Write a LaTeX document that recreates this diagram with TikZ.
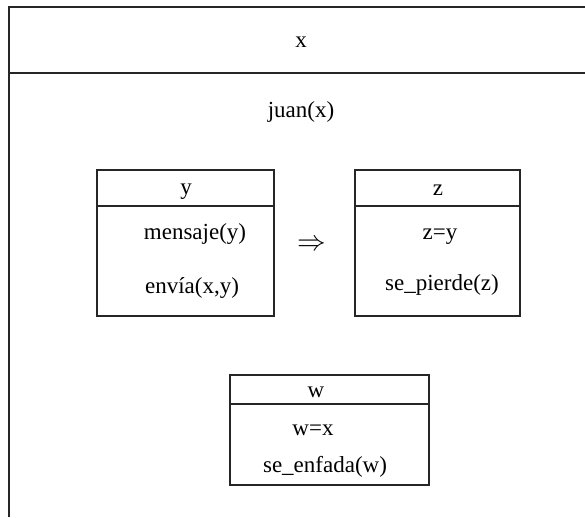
\documentclass[tikz,border=0pt]{standalone}
\usepackage{fontspec}
\setmainfont{Liberation Serif}
\begin{document}
\begin{tikzpicture}[x=1pt,y=-1pt,
  txt/.style={inner sep=0pt,anchor=base,font=\fontsize{23}{27}\selectfont},
  line/.style={line width=1.2pt,draw=black!85},
  drsbox/.style={line width=1.2pt,draw=black!85}]
\useasboundingbox (0,0) rectangle (585,517);
% outer DRS (open to the right and bottom)
\coordinate (otl) at (9,7);
\coordinate (otr) at (585,7);
\coordinate (obl) at (9,517);
\coordinate (osl) at (9,73);
\coordinate (osr) at (585,73);
\draw[line] (otr) -- (otl) -- (obl);
\draw[line] (osl) -- (osr);
\node[txt] (ux) at (301,47) {x};
\node[txt] (juan) at (301,117) {juan(x)};
% box y
\draw[drsbox] (97,170) rectangle (274,316);
\draw[drsbox] (97,206) -- (274,206);
\node[txt] (uy) at (186,194) {y};
\node[txt] (msg) at (195,239) {mensaje(y)};
\node[txt] (env) at (192,293) {envía(x,y)};
% implication
\node[txt,anchor=center] (imp) at (312,245) {\scalebox{1.15}{$\Rightarrow$}};
% box z
\draw[drsbox] (355,170) rectangle (520,316);
\draw[drsbox] (355,206) -- (520,206);
\node[txt] (uz) at (438,195) {z};
\node[txt] (zy) at (440,239) {z=y};
\node[txt] (sp) at (442,290) {se\_pierde(z)};
% box w
\draw[drsbox] (230,375) rectangle (429,485);
\draw[drsbox] (230,404) -- (429,404);
\node[txt] (uw) at (316,397) {w};
\node[txt] (wx) at (313,435) {w=x};
\node[txt] (se) at (325,472) {se\_enfada(w)};
\end{tikzpicture}
\end{document}
